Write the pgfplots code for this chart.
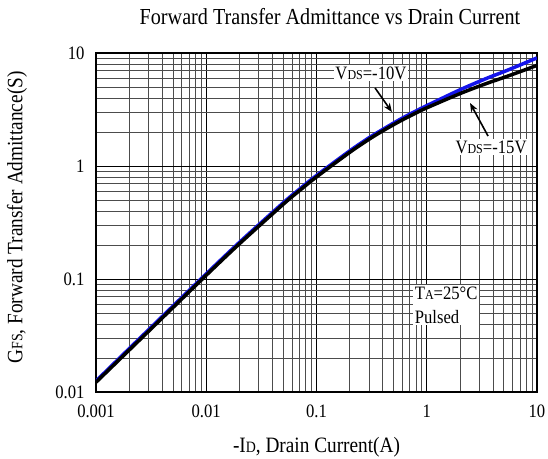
\documentclass[border=0pt]{standalone}
\usepackage{fontspec}
\setmainfont{Liberation Serif}[FakeStretch=0.88]
\usepackage{pgfplots}
\pgfplotsset{compat=1.18}
\usetikzlibrary{arrows.meta}
\newcommand{\sm}[1]{\scalebox{0.72}{#1}}
\definecolor{curveblue}{RGB}{20,20,235}

% GFS vs -ID, VDS=-15V (black)
\pgfplotstableread{
id gfs
0.001 0.0122
0.002 0.0235
0.005 0.056
0.01 0.108
0.02 0.205
0.05 0.459
0.07 0.605
0.1 0.80
0.2 1.32
0.3 1.725
0.4 2.05
0.57 2.49
0.8 2.95
1 3.27
2 4.37
3.5 5.38
5 6.07
7 6.83
10 7.77
}\vdsfifteen

% GFS vs -ID, VDS=-10V (blue)
\pgfplotstableread{
id gfs
0.001 0.0125
0.002 0.0242
0.005 0.0577
0.01 0.111
0.02 0.211
0.05 0.473
0.07 0.623
0.1 0.824
0.2 1.36
0.3 1.78
0.4 2.11
0.57 2.58
0.8 3.07
1 3.42
2 4.72
3.5 5.97
5 6.83
7 7.82
10 9.05
}\vdsten

\begin{document}
\begin{tikzpicture}
\path[use as bounding box] (-96bp,-67bp) rectangle (452bp,392bp);
\begin{axis}[
  at={(0,0)}, anchor=south west,
  scale only axis, width=441bp, height=339bp,
  xmode=log, ymode=log,
  xmin=0.001, xmax=10, ymin=0.01, ymax=10,
  grid=both,
  major grid style={black, line width=0.9bp},
  minor grid style={black!70, line width=0.8bp},
  axis line style={black, line width=1.4bp},
  xtick={0.001,0.01,0.1,1,10},
  xticklabels={0.001,0.01,0.1,1,10},
  ytick={0.01,0.1,1,10},
  yticklabels={0.01,0.1,1,10},
  major tick length=4bp, minor tick length=0pt,
  tick style={black, line width=0.9bp},
  tick label style={font=\fontsize{19}{19}\selectfont},
  xticklabel style={yshift=-9bp},
  yticklabel style={xshift=-8bp},
  xlabel={-I\sm{D}, Drain Current(A)},
  ylabel={G\sm{FS}, Forward Transfer Admittance(S)},
  label style={font=\fontsize{22}{22}\selectfont},
  xlabel style={at={(axis description cs:0.5,0)}, anchor=center, yshift=-55bp},
  ylabel style={at={(axis description cs:0,0.5)}, anchor=center, yshift=79bp, xshift=5bp},
]
\addplot[curveblue, line width=3.5bp, smooth] table[x=id, y=gfs] {\vdsten};
\addplot[black, line width=3.5bp, smooth] table[x=id, y=gfs] {\vdsfifteen};

\node[fill=white, inner sep=1.5bp, font=\fontsize{19}{19}\selectfont] at (axis cs:0.312,6.65) {V\sm{DS}=-10V};
\draw[-{Stealth[length=9bp,width=7bp]}, line width=1.6bp] (axis cs:0.34,4.9) -- (axis cs:0.484,3.0);
\node[fill=white, inner sep=1.5bp, font=\fontsize{19}{19}\selectfont] at (axis cs:3.83,1.47) {V\sm{DS}=-15V};
\draw[-{Stealth[length=9bp,width=7bp]}, line width=1.6bp] (axis cs:3.6,1.84) -- (axis cs:2.47,3.61);
\node[fill=white, inner sep=2bp, align=left, font=\fontsize{19}{24}\selectfont] at (axis cs:1.5,0.0589) {T\sm{A}=25°C\\Pulsed};
\end{axis}
\node[font=\fontsize{23}{23}\selectfont] at (234bp,375bp) {Forward Transfer Admittance vs Drain Current};
\end{tikzpicture}
\end{document}
